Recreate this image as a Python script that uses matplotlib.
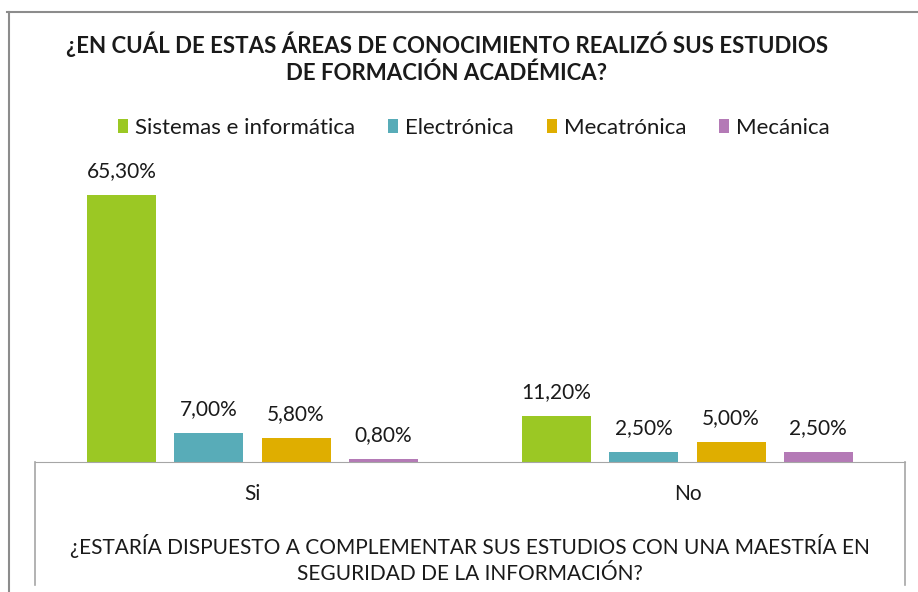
import matplotlib.pyplot as plt
import numpy as np
from matplotlib.lines import Line2D

# datos
CATEGORIAS = ["Si", "No"]
AREAS = ["Sistemas e informática", "Electrónica", "Mecatrónica", "Mecánica"]
SISTEMAS = [65.3, 11.2]
ELECTRONICA = [7.0, 2.5]
MECATRONICA = [5.8, 5.0]
MECANICA = [0.8, 2.5]

COLORES = ["#9BC824", "#58ACB8", "#DFAE00", "#B47AB6"]
TINTA = "#1a1a1a"
BORDE = "#a6a6a6"

TITULO = "¿EN CUÁL DE ESTAS ÁREAS DE CONOCIMIENTO REALIZÓ SUS ESTUDIOS\nDE FORMACIÓN ACADÉMICA?"
EJE_X = "¿ESTARÍA DISPUESTO A COMPLEMENTAR SUS ESTUDIOS CON UNA MAESTRÍA EN\nSEGURIDAD DE LA INFORMACIÓN?"

plt.rcParams["font.family"] = ["Lato", "DejaVu Sans"]

W, H = 918, 592
fig = plt.figure(figsize=(W / 100, H / 100), dpi=100)
ax = fig.add_axes([35 / W, 130 / H, 870 / W, 286 / H])

series = [SISTEMAS, ELECTRONICA, MECATRONICA, MECANICA]
x = np.arange(len(CATEGORIAS))
paso = 0.2005
ancho = 0.159
for i, (vals, color, nombre) in enumerate(zip(series, COLORES, AREAS)):
    pos = x + (i - 1.5) * paso
    barras = ax.bar(pos, vals, width=ancho, color=color, label=nombre)
    for b, v in zip(barras, vals):
        ax.annotate(f"{v:.2f}%".replace(".", ","), (b.get_x() + b.get_width() / 2, v),
                    xytext=(0, 10), textcoords="offset points", ha="center", va="bottom",
                    fontsize=15, color=TINTA)

ax.set_xlim(-0.5, 1.5)
ax.set_ylim(0, 70)
ax.set_yticks([])
ax.set_xticks(x)
ax.set_xticklabels(CATEGORIAS, fontsize=15, color=TINTA)
ax.tick_params(axis="x", length=0, pad=16)
for s in ("top", "right", "left"):
    ax.spines[s].set_visible(False)
ax.spines["bottom"].set_color(BORDE)

# caja de la zona de categorías y marco exterior
fig.add_artist(Line2D([35 / W, 35 / W], [130 / H, 7 / H], color=BORDE, lw=1.2))
fig.add_artist(Line2D([905 / W, 905 / W], [130 / H, 7 / H], color=BORDE, lw=1.2))
fig.add_artist(Line2D([9 / W, 9 / W], [0, 580 / H], color="#8c8c8c", lw=1.5))
fig.add_artist(Line2D([7 / W, 1], [580 / H, 580 / H], color="#8c8c8c", lw=1.5))

fig.text(447 / W, 1 - 58 / H, TITULO, ha="center", va="center", fontsize=16,
         fontweight="bold", color=TINTA, linespacing=1.3)
fig.text(470 / W, 1 - 559 / H, EJE_X, ha="center", va="center", fontsize=15,
         color=TINTA, linespacing=1.35)

fig.legend(loc="center", bbox_to_anchor=(474 / W, 1 - 128 / H), ncol=4, frameon=False,
           fontsize=16, handlelength=0.45, handleheight=0.6, handletextpad=0.3,
           columnspacing=1.5, labelcolor=TINTA)

fig.savefig("out.png", dpi=100)
